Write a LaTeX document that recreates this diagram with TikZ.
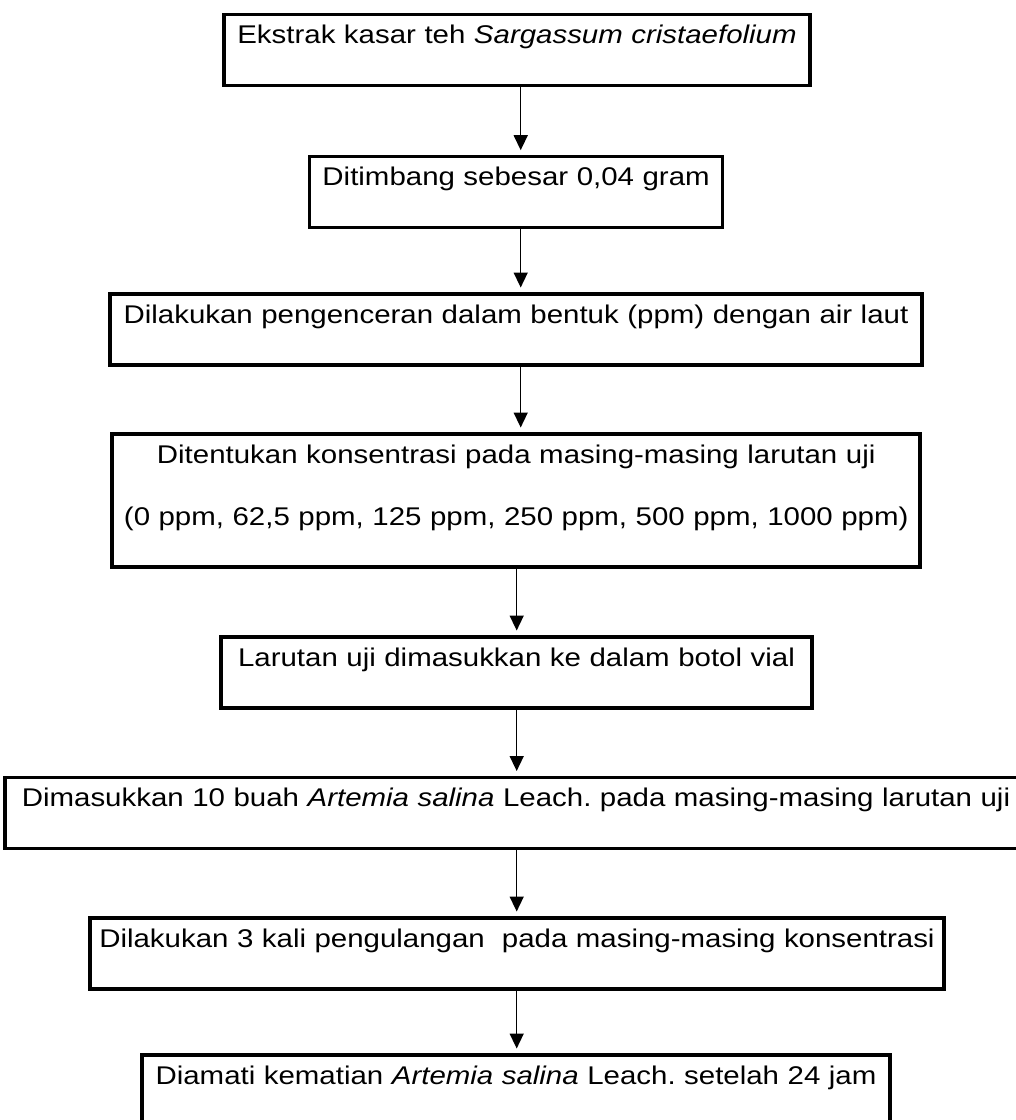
\documentclass[tikz,border=0pt]{standalone}
\usepackage{fontspec}
\setmainfont{Liberation Sans}[FakeStretch=1.15]
\usepackage{tikz}
\usetikzlibrary{arrows.meta}
\frenchspacing

\begin{document}
\begin{tikzpicture}[x=1pt, y=-1pt,
    box/.style={draw, line width=3.5pt, inner sep=0pt, align=center,
        font=\fontsize{25.6pt}{30pt}\selectfont,
        text height=29.5pt, text depth=41.5pt, anchor=north},
    arr/.style={-{Triangle[width=14pt,length=15pt]}, line width=1.5pt, shorten >=4.5pt}]
            \useasboundingbox (0,0) rectangle (1016,1120);
            \clip (0,0) rectangle (1016,1120);
            \coordinate (c1) at (520.7,0);
            \coordinate (c2) at (516.7,0);

            \node[box, text width=586pt] (n1) at (517,12.7) {Ekstrak kasar teh \textit{Sargassum cristaefolium}};
            \node[box, text width=413pt] (n2) at (516.1,154.7) {Ditimbang sebesar 0,04 gram};
            \node[box, text width=812pt] (n3) at (516,292) {Dilakukan pengenceran dalam bentuk (ppm) dengan air laut};
            \node[box, text width=808pt, text depth=103.8pt] (n4) at (516.2,432) {Ditentukan konsentrasi pada masing-masing larutan uji\\[32.3pt] (0 ppm, 62,5 ppm, 125 ppm, 250 ppm, 500 ppm, 1000 ppm)};
            \node[box, text width=591pt] (n5) at (516.5,635) {Larutan uji dimasukkan ke dalam botol vial};
            \node[box, text width=1022pt] (n6) at (516,775.5) {Dimasukkan 10 buah \textit{Artemia salina} Leach. pada masing-masing larutan uji};
            \node[box, text width=854pt] (n7) at (517,916) {Dilakukan 3 kali pengulangan\ \ pada masing-masing konsentrasi};
            \node[box, text width=748pt] (n8) at (516,1053) {Diamati kematian \textit{Artemia salina} Leach. setelah 24 jam};

            \draw[arr] (n1.south -| c1) -- (n2.north -| c1);
            \draw[arr] (n2.south -| c1) -- (n3.north -| c1);
            \draw[arr] (n3.south -| c1) -- (n4.north -| c1);
            \draw[arr] (n4.south -| c2) -- (n5.north -| c2);
            \draw[arr] (n5.south -| c2) -- (n6.north -| c2);
            \draw[arr] (n6.south -| c2) -- (n7.north -| c2);
            \draw[arr] (n7.south -| c2) -- (n8.north -| c2);
\end{tikzpicture}
\end{document}
